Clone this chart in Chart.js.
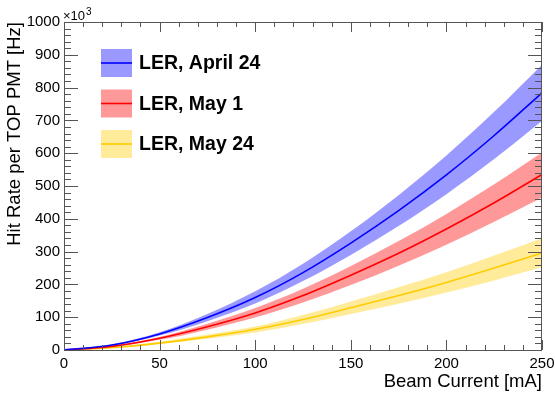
<!DOCTYPE html>
<html>
<head>
<meta charset="utf-8">
<script src="https://cdn.jsdelivr.net/npm/chart.js@4"></script>
<style>
  html, body { margin: 0; padding: 0; background: #fff; }
  #wrap { width: 555px; height: 394px; }
</style>
</head>
<body>
<div id="wrap"><canvas id="rateChart" width="555" height="394"></canvas></div>
<script>
// beam current [mA]
const current = [0, 25, 50, 75, 100, 125, 150, 175, 200, 225, 250];

// hit rate per TOP PMT, in units of 10^3 Hz (center, band upper, band lower)
const april24 = [0, 15, 49, 99, 160, 236, 326, 425, 534, 654, 784];
const april24Up = [0, 17, 54, 110, 179, 263, 362, 472, 593, 726, 870];
const april24Lo = [0, 13, 44, 88, 142, 210, 290, 378, 475, 582, 698];

const may1 = [0, 11, 36, 71, 113, 166, 228, 295, 369, 449, 535];
const may1Up = [0, 13, 40, 80, 128, 187, 256, 332, 415, 505, 602];
const may1Lo = [0, 10, 31, 62, 99, 145, 198, 257, 321, 391, 465];

const may24 = [0, 7, 21, 40, 63, 93, 129, 166, 206, 250, 296];
const may24Up = [0, 8, 25, 47, 72, 107, 148, 191, 237, 288, 341];
const may24Lo = [0, 6, 18, 34, 53, 79, 110, 141, 175, 212, 252];

const toXY = arr => arr.map((v, i) => ({ x: current[i], y: v }));

const band = (data, color, fill) => ({
    data: toXY(data),
    borderWidth: 0,
    pointRadius: 0,
    backgroundColor: color,
    fill: fill,
    cubicInterpolationMode: "monotone",
    isBand: true
});

const line = (label, data, color, bandColor) => ({
    label: label,
    data: toXY(data),
    borderColor: color,
    borderWidth: 1.6,
    pointRadius: 0,
    fill: false,
    cubicInterpolationMode: "monotone",
    bandColor: bandColor
});

const FONT = "'Liberation Sans', Arial, Helvetica, sans-serif";
const AXIS = "#555";

// ROOT-like frame: inward ticks on all four sides, plus the x10^3 note
const framePlugin = {
    id: "frame",
    afterDatasetsDraw(chart) {
        const { ctx, chartArea: a, scales } = chart;
        const xs = scales.x, ys = scales.y;
        ctx.save();
        ctx.strokeStyle = AXIS;
        ctx.lineWidth = 1;
        ctx.strokeRect(a.left + 0.5, a.top + 0.5, a.right - a.left - 1, a.bottom - a.top);
        ctx.beginPath();
        for (let v = xs.min; v <= xs.max + 1e-6; v += 10) {
            const px = Math.round(xs.getPixelForValue(v)) + 0.5;
            const len = v % 50 === 0 ? 10 : 5;
            ctx.moveTo(px, a.bottom); ctx.lineTo(px, a.bottom - len);
            ctx.moveTo(px, a.top); ctx.lineTo(px, a.top + len);
        }
        for (let v = ys.min; v <= ys.max + 1e-6; v += 20) {
            const py = Math.round(ys.getPixelForValue(v)) + 0.5;
            const len = v % 100 === 0 ? 14 : 7;
            ctx.moveTo(a.left, py); ctx.lineTo(a.left + len, py);
            ctx.moveTo(a.right, py); ctx.lineTo(a.right - len, py);
        }
        ctx.stroke();

        ctx.fillStyle = "#000";
        ctx.textBaseline = "alphabetic";
        ctx.font = "13px " + FONT;
        ctx.fillText("\u00d710", a.left - 1, 20);
        ctx.font = "10px " + FONT;
        ctx.fillText("3", a.left + 22, 15);
        ctx.restore();
    }
};

// legend: shaded box with the center line through it
const legendPlugin = {
    id: "bandLegend",
    afterDraw(chart) {
        const { ctx } = chart;
        const items = chart.data.datasets.filter(d => !d.isBand);
        ctx.save();
        items.forEach((d, i) => {
            const cy = 63 + i * 40.5;
            ctx.fillStyle = d.bandColor;
            ctx.fillRect(101, cy - 14, 31, 28);
            ctx.strokeStyle = d.borderColor;
            ctx.lineWidth = 1.6;
            ctx.beginPath();
            ctx.moveTo(101, cy); ctx.lineTo(132, cy);
            ctx.stroke();
            ctx.fillStyle = "#000";
            ctx.font = "bold 19.5px " + FONT;
            ctx.textBaseline = "middle";
            ctx.fillText(d.label, 139, cy + 1);
        });
        ctx.restore();
    }
};

const blueBand = "rgba(0, 0, 255, 0.4)";
const redBand = "rgba(255, 0, 0, 0.4)";
const goldBand = "rgba(255, 204, 0, 0.4)";

new Chart(document.getElementById("rateChart"), {
    type: "line",
    data: {
        datasets: [
            band(april24Up, blueBand, "+1"),
            band(april24Lo, blueBand, false),
            band(may1Up, redBand, "+1"),
            band(may1Lo, redBand, false),
            band(may24Up, goldBand, "+1"),
            band(may24Lo, goldBand, false),
            line("LER, April 24", april24, "#0000ff", blueBand),
            line("LER, May 1", may1, "#ff0000", redBand),
            line("LER, May 24", may24, "#ffcc00", goldBand)
        ]
    },
    options: {
        responsive: false,
        animation: false,
        events: [],
        layout: { padding: { left: 0, top: 22, right: 13, bottom: 0 } },
        plugins: {
            legend: { display: false },
            tooltip: { enabled: false },
            filler: { propagate: false }
        },
        scales: {
            x: {
                type: "linear",
                min: 0,
                max: 250,
                grid: { display: false, drawTicks: false },
                border: { display: false },
                ticks: { stepSize: 50, padding: 5, color: "#000", font: { family: FONT, size: 15 }, maxRotation: 0,
                         callback: v => String(v) },
                title: { display: true, text: "Beam Current [mA]", align: "end", color: "#000", padding: { top: 0, bottom: 1 }, font: { family: FONT, size: 18.5 } },
                afterFit: s => { s.height = 44; s.paddingLeft = 0; s.paddingRight = 0; }
            },
            y: {
                type: "linear",
                min: 0,
                max: 1000,
                grid: { display: false, drawTicks: false },
                border: { display: false },
                ticks: { stepSize: 100, padding: 4, color: "#000", font: { family: FONT, size: 15 },
                         callback: v => String(v) },
                title: { display: true, text: "Hit Rate per TOP PMT [Hz]", align: "end", color: "#000", padding: { top: 4, bottom: 0 }, font: { family: FONT, size: 18.5 } },
                afterFit: s => { s.width = 64; s.paddingTop = 0; s.paddingBottom = 0; }
            }
        }
    },
    plugins: [framePlugin, legendPlugin]
});
</script>
</body>
</html>
